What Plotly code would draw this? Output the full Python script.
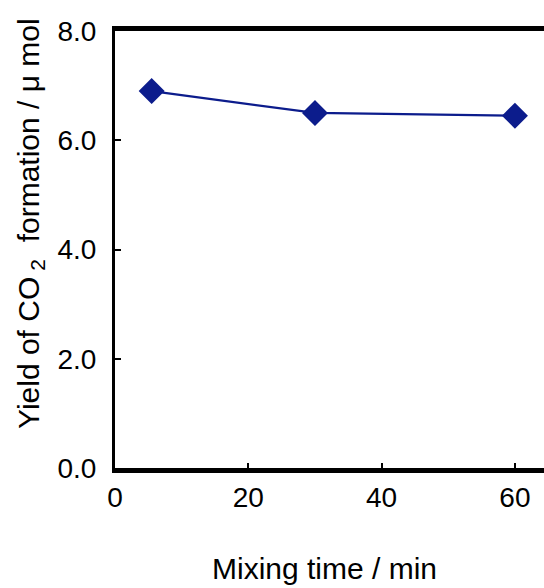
import plotly.graph_objects as go

mixing_time = [5.5, 30, 60]
co2_yield = [6.9, 6.5, 6.45]
x_ticks = [0, 20, 40, 60]
y_ticks = [0, 2, 4, 6, 8]
y_tick_labels = ["0.0", "2.0", "4.0", "6.0", "8.0"]

navy = "#0c1c8c"
font_family = "Liberation Sans, Arial, sans-serif"

fig = go.Figure()
fig.add_trace(go.Scatter(
    x=mixing_time, y=co2_yield, mode="lines+markers",
    line=dict(color=navy, width=2.2),
    marker=dict(symbol="diamond", size=20, color=navy),
    showlegend=False, cliponaxis=False,
))

fig.update_layout(
    width=544, height=588,
    margin=dict(l=115, r=0, t=31, b=120),
    paper_bgcolor="white", plot_bgcolor="white",
    font=dict(family=font_family, color="black"),
)
fig.update_xaxes(
    range=[0, 64.36], tickvals=x_ticks, ticks="inside", ticklen=5,
    tickwidth=2, tickcolor="black", showline=True, linewidth=5,
    linecolor="black", mirror=True, showgrid=False, zeroline=False,
    tickfont_size=28, tickfont_family=font_family, ticklabelstandoff=0,
)
fig.update_yaxes(
    range=[0, 8], tickvals=y_ticks, ticktext=y_tick_labels,
    ticks="inside", ticklen=6, tickwidth=2, tickcolor="black",
    showline=True, linewidth=3, linecolor="black", mirror=False,
    showgrid=False, zeroline=False,
    tickfont_size=28, tickfont_family=font_family, ticklabelstandoff=10,
)
fig.add_annotation(text="Mixing time / min", xref="paper", yref="paper",
                   x=0.489, y=-0.231, xanchor="center", yanchor="middle",
                   showarrow=False, font=dict(size=30))
fig.add_annotation(text="Yield of CO\u2009<sub>2</sub>\u00a0 formation / \u03bc mol",
                   xref="paper", yref="paper", x=0, xshift=-85,
                   y=(468 - 224) / 437, xanchor="center", yanchor="middle",
                   textangle=-90, showarrow=False, font=dict(size=30))

fig.write_html("out.html")
